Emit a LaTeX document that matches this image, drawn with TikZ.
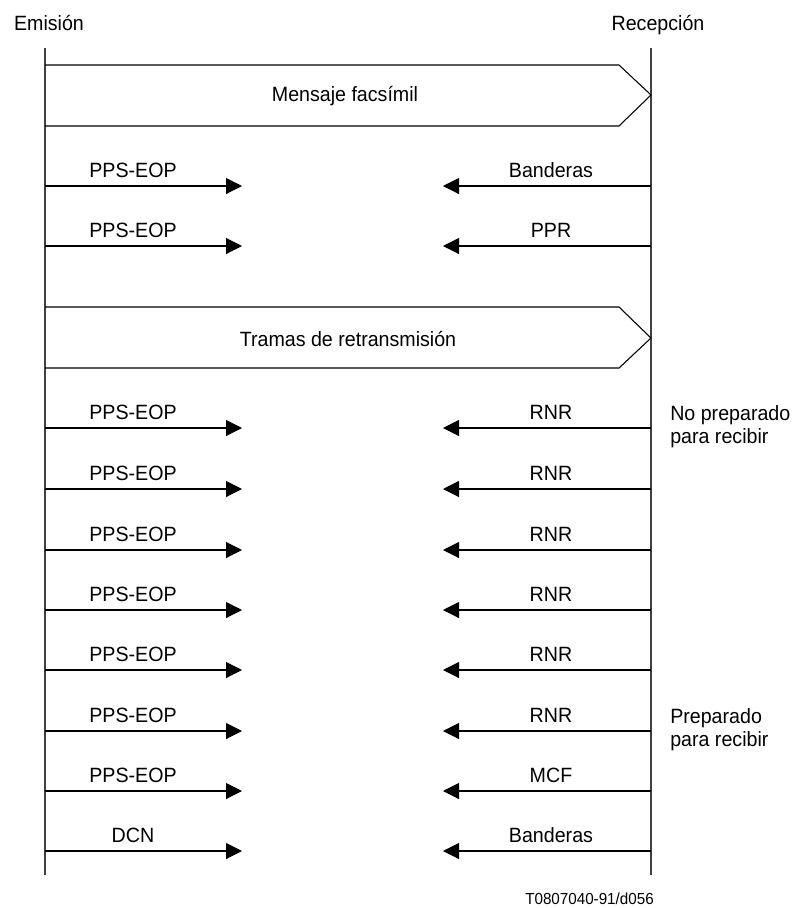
\documentclass[tikz,border=0pt]{standalone}
\usepackage{fontspec}
\setmainfont{Liberation Sans}[FakeStretch=0.95]
\usetikzlibrary{arrows.meta}
\tikzset{
  life/.style={line width=1pt, draw=black!75},
  msg/.style={line width=0.8pt, -{Triangle[length=12pt,width=12pt]}},
  bigmsg/.style={line width=0.8pt, line join=miter},
  lbl/.style={inner sep=0pt, anchor=base},
  hdr/.style={inner sep=0pt, anchor=base},
  note/.style={anchor=west, align=left, inner sep=0pt, font=\fontsize{15.5}{17.25}\selectfont},
}
\begin{document}
\begin{tikzpicture}[x=0.75pt,y=-0.75pt,font=\fontsize{15.5}{18}\selectfont]
\useasboundingbox (0,0) rectangle (804,908);
% headers
\node[hdr] (em) at (49,30) {Emisión};
\node[hdr] (re) at (658,30) {Recepción};
% lifelines
\coordinate (Ltop) at (45,48);
\coordinate (Lbot) at (45,875);
\coordinate (Rtop) at (651,48);
\coordinate (Rbot) at (651,875);
\draw[life] (Ltop) -- (Lbot);
\draw[life] (Rtop) -- (Rbot);
% big message 1
\coordinate (b1a) at (45,65);
\coordinate (b1b) at (619,65);
\coordinate (b1t) at (651,95);
\coordinate (b1c) at (619,126);
\coordinate (b1d) at (45,126);
\draw[bigmsg] (b1a) -- (b1b) -- (b1t) -- (b1c) -- (b1d);
\node (mf) at (345,96) {Mensaje facsímil};
% big message 2
\coordinate (b2a) at (45,307);
\coordinate (b2b) at (619,307);
\coordinate (b2t) at (651,338);
\coordinate (b2c) at (619,368);
\coordinate (b2d) at (45,368);
\draw[bigmsg] (b2a) -- (b2b) -- (b2t) -- (b2c) -- (b2d);
\node (tr) at (348,339) {Tramas de retransmisión};
% rows
\foreach \i/\y/\l/\r in {1/186/PPS-EOP/Banderas, 2/246/PPS-EOP/PPR, 3/428/PPS-EOP/RNR, 4/489/PPS-EOP/RNR, 5/550/PPS-EOP/RNR, 6/610/PPS-EOP/RNR, 7/670/PPS-EOP/RNR, 8/731/PPS-EOP/RNR, 9/791/PPS-EOP/MCF, 10/851/DCN/Banderas}{
  \coordinate (ls\i) at (45,\y);
  \coordinate (le\i) at (242,\y);
  \coordinate (rs\i) at (651,\y);
  \coordinate (re\i) at (443,\y);
  \draw[msg] (ls\i) -- (le\i);
  \draw[msg] (rs\i) -- (re\i);
  \node[lbl] (ll\i) at (133,\y-9) {\l};
  \node[lbl] (rl\i) at (551,\y-9) {\r};
}
% notes
\node[note] (np) at (670,427) {No preparado\\para recibir};
\node[note] (pp) at (670,730) {Preparado\\para recibir};
% footer
\node[anchor=east, inner sep=0pt, font=\fontsize{12}{14}\selectfont] (ft) at (654,899) {T0807040-91/d056};
\end{tikzpicture}
\end{document}
